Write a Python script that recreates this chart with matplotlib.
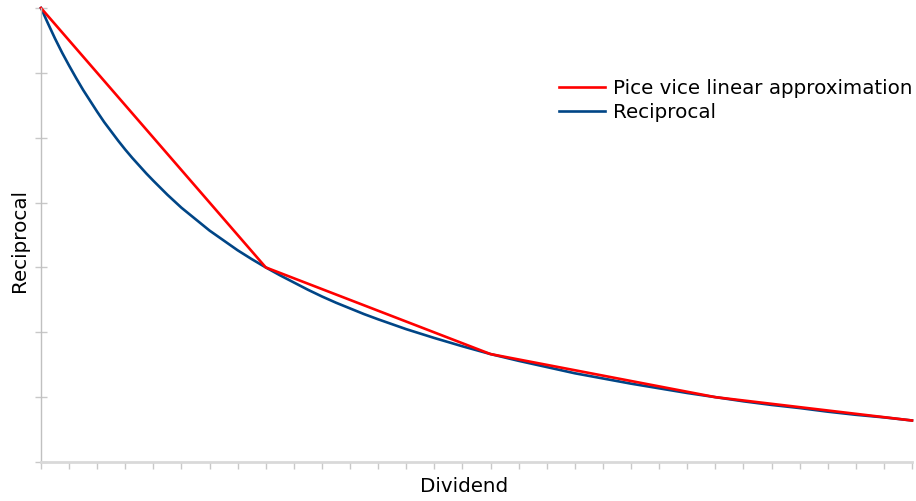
import numpy as np
import matplotlib.pyplot as plt

dividend = [1.0, 1.03125, 1.0625, 1.09375, 1.125, 1.15625, 1.1875, 1.21875,
            1.25, 1.28125, 1.3125, 1.34375, 1.375, 1.40625, 1.4375, 1.46875,
            1.5, 1.5625, 1.625, 1.6875, 1.75, 1.8125, 1.875, 1.9375,
            2.0, 2.0625, 2.125, 2.1875, 2.25, 2.3125, 2.375, 2.4375,
            2.5, 2.625, 2.75, 2.875,
            3.0, 3.125, 3.25, 3.375, 3.5, 3.625, 3.75, 3.875,
            4.0, 4.125, 4.25, 4.375, 4.5, 4.625, 4.75, 4.875]
reciprocal = [1.000, 0.970, 0.941, 0.914, 0.889, 0.865, 0.842, 0.821,
              0.800, 0.780, 0.762, 0.744, 0.727, 0.711, 0.696, 0.681,
              0.667, 0.640, 0.615, 0.593, 0.571, 0.552, 0.533, 0.516,
              0.500, 0.485, 0.471, 0.457, 0.444, 0.432, 0.421, 0.410,
              0.400, 0.381, 0.364, 0.348,
              0.333, 0.320, 0.308, 0.296, 0.286, 0.276, 0.267, 0.258,
              0.250, 0.242, 0.235, 0.229, 0.222, 0.216, 0.211, 0.205]

pw_x = [1.0, 2.0, 3.0, 4.0, 4.875]
pw_y = [1.0, 0.5, 0.333, 0.25, 0.205]

fig = plt.figure(figsize=(9.16, 5.01), dpi=100)
ax = fig.add_axes([41/916, 1 - 462/501, 871/916, 454/501])

l_rec, = ax.plot(dividend, reciprocal, color='#004586', lw=1.9, clip_on=False,
                 solid_joinstyle='round', label='Reciprocal')
l_pw, = ax.plot(pw_x, pw_y, color='#ff0000', lw=1.9, clip_on=False,
                label='Pice vice linear approximation')

ax.set_xlim(1.0, 4.875)
ax.set_ylim(0.125, 1.0)
ax.set_xticks(np.arange(1.0, 4.876, 0.125))
ax.set_yticks(np.arange(0.125, 1.001, 0.125))
ax.set_xticklabels([])
ax.set_yticklabels([])
ax.tick_params(axis='x', direction='out', length=5, color='#c8c8c8', width=1)
ax.tick_params(axis='y', direction='inout', length=8, color='#c8c8c8', width=1)

for s in ['top', 'right']:
    ax.spines[s].set_visible(False)
ax.spines['left'].set_color('#c0c0c0')
ax.spines['left'].set_linewidth(1)
ax.spines['bottom'].set_color('#d9d9d9')
ax.spines['bottom'].set_linewidth(2)

fig.text(464/916, 1 - 486/501, 'Dividend', fontsize=14.3, ha='center', va='center')
fig.text(20/916, 1 - 241/501, 'Reciprocal', fontsize=14.3, ha='center', va='center',
         rotation=90)

fig.legend([l_pw, l_rec], ['Pice vice linear approximation', 'Reciprocal'],
           loc='upper left', bbox_to_anchor=(559/916, 1 - 79/501),
           frameon=False, fontsize=14.3, handlelength=2.3, handletextpad=0.4,
           labelspacing=0.26, borderpad=0, borderaxespad=0)

fig.savefig('out.png', dpi=100)
